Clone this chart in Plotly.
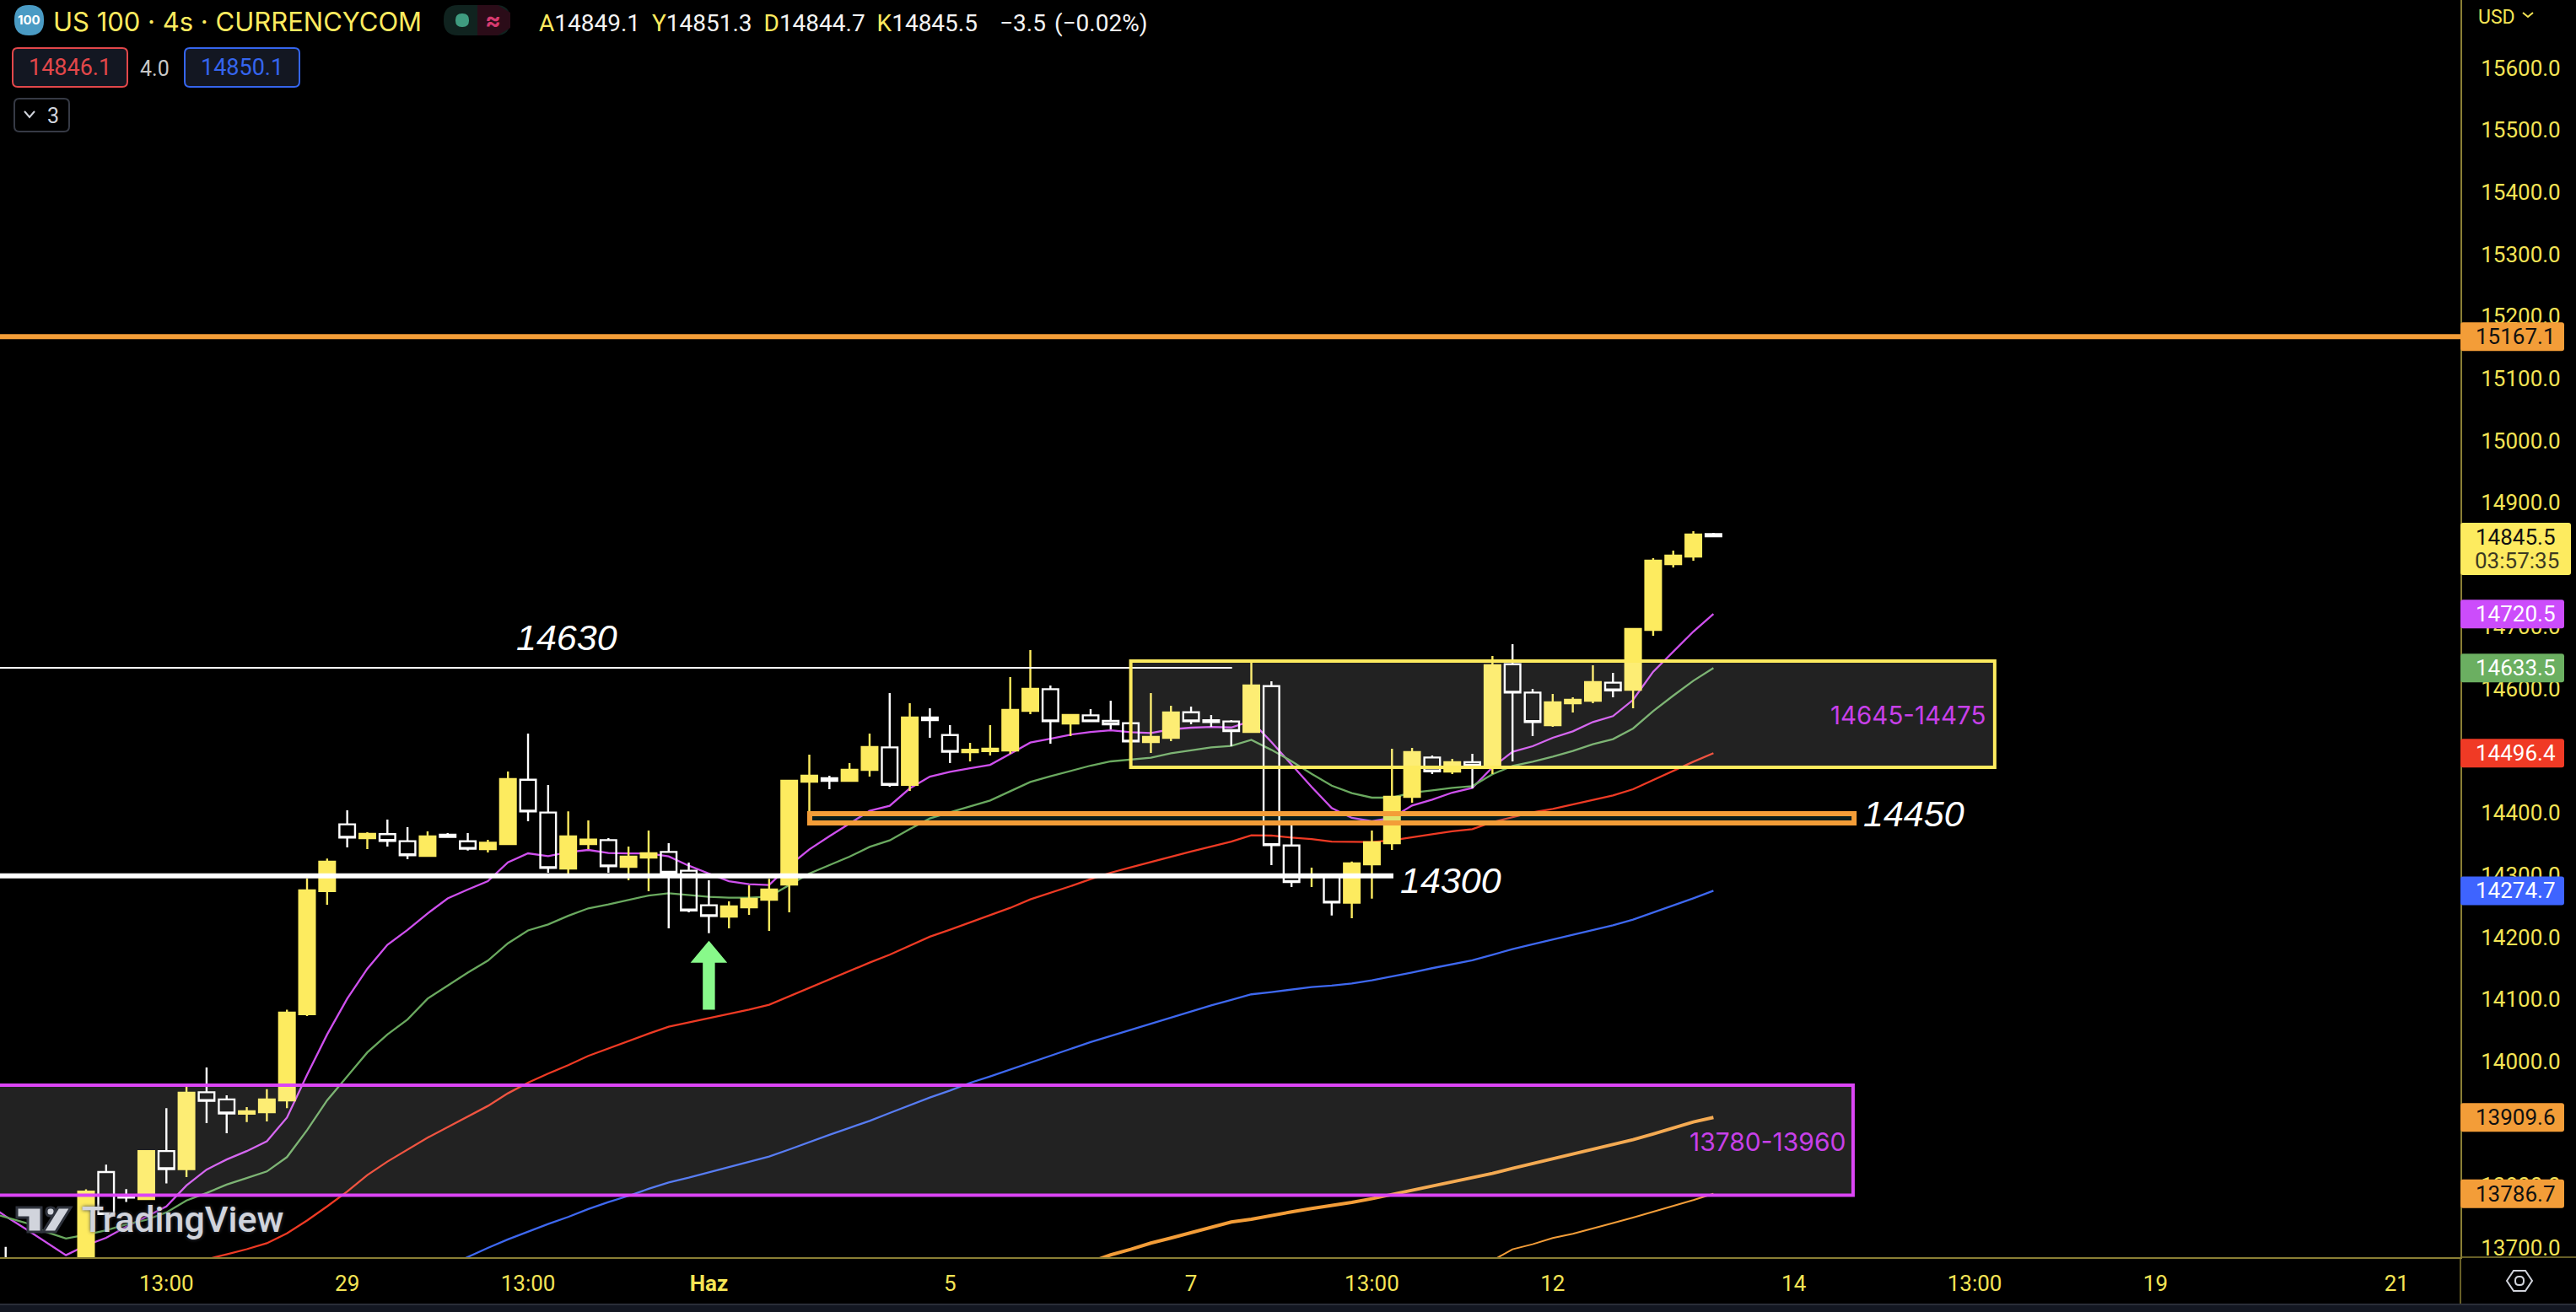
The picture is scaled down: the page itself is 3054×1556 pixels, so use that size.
# us100_4h_chart.py
import plotly.graph_objects as go

W, H = 3054, 1556
PLOT_W, PLOT_H = 2917, 1491
X_RANGE = [-4.282, 118.18]
Y_RANGE = [13684.5, 15709.5]

YELLOW = "#fdeb5f"
AXIS_TEXT = "#f4e455"
PURPLE = "#dc45f5"
ORANGE = "#f39d38"

candle_bar = [-4] + list(range(0, 82))
candle_open = [13670, 13650, 13821.6, 13781.7, 13778.3, 13855.4, 13826.4, 13950.2, 13938.7, 13915.6,
               13918, 13937.2, 14075.9, 14274.3, 14381.7, 14359.5, 14365.9, 14354.6, 14331, 14364.9,
               14354.5, 14341.8, 14350, 14453.6, 14400.7, 14310.6, 14350, 14356.3, 14313.3, 14328.2,
               14337.3, 14307, 14251.3, 14233.2, 14248.1, 14260.3, 14284.8, 14450.5, 14455.9, 14451.8,
               14469.5, 14505.7, 14445.5, 14553.7, 14525.6, 14498, 14499.8, 14500.7, 14564.6, 14599.4,
               14544.2, 14557.3, 14548.3, 14544.6, 14514.3, 14521.1, 14562.3, 14549.2, 14547.4, 14530.6,
               14604.4, 14347.7, 14297, 14298, 14255.4, 14317.4, 14351.4, 14426, 14489.4, 14466.8,
               14481.7, 14473.6, 14639.7, 14594, 14541.5, 14576.8, 14580.9, 14609.9, 14598.5, 14695,
               14800.9, 14813.1, 14849.1]
candle_high = [13701, 13794, 13833.7, 13794.2, 13856.8, 13924.7, 13958.9, 13990.2, 13945.4, 13926.1,
               13955, 14083.1, 14294.6, 14326.4, 14404.4, 14369, 14389.4, 14377.2, 14370.4, 14367.6,
               14367.6, 14356.8, 14466.8, 14527.9, 14445, 14402.5, 14388, 14359.5, 14345.9, 14371.7,
               14351.3, 14320, 14291.6, 14257.6, 14283.4, 14293.8, 14451.8, 14493.9, 14460, 14480.3,
               14527.9, 14593, 14576.8, 14568.6, 14541.5, 14513, 14541.5, 14618.9, 14662.3, 14605.3,
               14557.8, 14567.3, 14580.8, 14545.5, 14593, 14572.7, 14571.3, 14557.8, 14549.6, 14643.3,
               14612.1, 14380, 14312, 14300, 14321.9, 14371.7, 14503.5, 14504.8, 14492.6, 14487.2,
               14495.3, 14652.9, 14671.9, 14599.9, 14591.7, 14586.3, 14637.9, 14625.7, 14697.7, 14810.4,
               14822.6, 14853.9, 14851.3]
candle_low = [13640, 13640, 13749, 13773.5, 13777.3, 13803.3, 13813.4, 13900.6, 13884.2, 13902.1,
              13903, 13924.7, 14073, 14252.2, 14344.6, 14341.9, 14346, 14325.6, 14331, 14361.3,
              14339.6, 14336.4, 14350, 14386.6, 14303.8, 14301, 14341.8, 14303.8, 14291.6, 14273.9,
              14214.2, 14240, 14206.5, 14214.2, 14235.9, 14210.1, 14240, 14390, 14438.2, 14450.5,
              14458.6, 14442.3, 14435.5, 14521.1, 14480.3, 14483, 14492.6, 14495.3, 14559.1, 14511.6,
              14523.8, 14547.8, 14534.7, 14515.2, 14496.6, 14515.7, 14542.8, 14538.7, 14507.5, 14530.6,
              14316, 14280.7, 14280.7, 14235, 14230.5, 14262.2, 14340.5, 14416.5, 14462.7, 14462.7,
              14439.6, 14462.7, 14483.1, 14523.8, 14538.8, 14561.9, 14576.8, 14586.3, 14568.6, 14685.5,
              14795.5, 14806.3, 14844.7]
candle_close = [13650, 13790.3, 13754, 13780.5, 13855.4, 13826.4, 13949.3, 13936.3, 13916, 13919.4,
                13938.7, 14078.3, 14275.3, 14321.5, 14360.4, 14366.3, 14355, 14331.9, 14362.3, 14361.3,
                14342.3, 14352.2, 14454.5, 14402.5, 14311.5, 14362.2, 14357.2, 14314.2, 14329.6, 14335,
                14303.8, 14243.1, 14234, 14249.5, 14261.7, 14276.6, 14451.8, 14460, 14451.8, 14469.5,
                14506.1, 14445.5, 14553.7, 14549.6, 14498.5, 14502, 14503.4, 14565.9, 14599.9, 14547.8,
                14557.8, 14547.8, 14542.8, 14515.2, 14522.4, 14561.8, 14547.8, 14546.4, 14532, 14605.3,
                14348.2, 14288.9, 14300, 14255.8, 14318.8, 14352.7, 14426, 14498, 14467.2, 14481.7,
                14475.9, 14637.9, 14594, 14546.5, 14578.2, 14582.2, 14610.8, 14597.6, 14696.3, 14806.3,
                14814.5, 14848.4, 14845.5]

ma_purple = [13772, 13750.4, 13730.1, 13708.5, 13687.7, 13703.6, 13715.7, 13733.5, 13749.4, 13766.3,
             13800, 13825.5, 13841.9, 13855.4, 13871.2, 13909.3, 13978.2, 14043.2, 14101, 14149.1,
             14187.7, 14211.7, 14238.2, 14262.3, 14276.6, 14290.2, 14320.5, 14335, 14330.5, 14336.8,
             14340.5, 14335.5, 14335, 14335, 14330, 14315.1, 14302.4, 14290.2, 14285.2, 14283.9,
             14315.1, 14341.4, 14362.6, 14383, 14403.4, 14411.5, 14439.6, 14458.6, 14466.3, 14472.2,
             14477.6, 14495.3, 14513.4, 14519.7, 14526.1, 14530.6, 14533.3, 14530.1, 14528.8, 14534.7,
             14537.4, 14538.7, 14537.8, 14548.3, 14514.3, 14478.1, 14441.9, 14407.9, 14392.1, 14386.7,
             14392.1, 14412, 14421.5, 14432.8, 14440.5, 14473.6, 14498.5, 14507.5, 14521.1, 14531.5,
             14546.5, 14556, 14582.2, 14627.5, 14659.2, 14692.2, 14720.5]
ma_green = [13758.1, 13749.4, 13739.8, 13725.3, 13714.7, 13720.5, 13727.7, 13737.4, 13744.6, 13756.6,
            13775.9, 13787.9, 13801.4, 13812, 13822.6, 13845.7, 13889.1, 13937.2, 13975.8, 14014.3,
            14043.2, 14067.3, 14101, 14121.7, 14142.9, 14162.1, 14190.1, 14210.8, 14220.4, 14234.4,
            14246.4, 14252.7, 14259.9, 14267.1, 14270.7, 14268, 14264.9, 14263.5, 14263.5, 14265.3,
            14283.4, 14302.4, 14316, 14329.6, 14345.4, 14355.9, 14374, 14391.2, 14401.1, 14410.2,
            14420.1, 14435.1, 14450, 14459.1, 14468.1, 14476.3, 14483.1, 14485.8, 14489, 14496.2,
            14501.2, 14505.7, 14508, 14517.9, 14501.6, 14483.5, 14463.1, 14444.1, 14431.9, 14424.7,
            14424.7, 14432.8, 14436.5, 14440.5, 14443.3, 14462.3, 14475.9, 14482.6, 14490.8, 14499.8,
            14510.7, 14518.9, 14536.1, 14564.1, 14589, 14613, 14633.5]
ma_red = [13670, 13681, 13689.2, 13697.4, 13707, 13722.9, 13743.6, 13766.3, 13790.3, 13816.8,
          13838.5, 13857.8, 13877, 13893.9, 13911.4, 13928.1, 13948.5, 13965.7, 13980.2, 13993.8,
          14008.7, 14020.9, 14033.2, 14044.5, 14055.8, 14062.6, 14069.4, 14076.2, 14083.4, 14091.1,
          14104.7, 14118.7, 14131.9, 14145.4, 14159, 14171.7, 14186.2, 14200.7, 14212, 14223.7,
          14234.6, 14247.2, 14260.8, 14271.2, 14282.1, 14293.4, 14303.8, 14312.4, 14320.5, 14329.6,
          14337.8, 14345.9, 14354, 14364, 14363.6, 14360.4, 14358.1, 14354, 14353.2, 14353.2,
          14355.9, 14361.3, 14365.8, 14370.4, 14374, 14385.3, 14393, 14401.2, 14406.6, 14413.8,
          14421.5, 14428.3, 14438.3, 14453.2, 14467.7, 14482.6, 14496.4]
ma_blue = [13670, 13685, 13699.5, 13713.1, 13725.8, 13738, 13749.3, 13762, 13773.3, 13783.3,
           13794.6, 13805, 13812.7, 13821.3, 13829.4, 13837.6, 13846.6, 13858, 13870.2, 13881.5,
           13892.8, 13904.1, 13916.8, 13929.5, 13941.7, 13953, 13965.3, 13975.7, 13987, 13998.3,
           14009.2, 14020, 14030.9, 14040.9, 14050.4, 14060.3, 14070.7, 14080.7, 14090.2, 14098.8,
           14107.9, 14111.5, 14115.1, 14119.6, 14121.9, 14125.5, 14130.5, 14136.4, 14143.2, 14150,
           14156.3, 14162.6, 14171.7, 14180.7, 14188.4, 14196.1, 14203.8, 14212, 14219.2, 14228.2,
           14239.5, 14250.8, 14262.6, 14274.7]
ma_orange = [13676.9, 13688.2, 13697.3, 13707.2, 13715.4, 13724.4, 13733.5, 13741.2, 13745.7, 13752,
             13757.5, 13762.9, 13767.4, 13772.9, 13778.7, 13785.5, 13792.3, 13799.1, 13805.9, 13811.8,
             13819.5, 13827.6, 13835.3, 13842.6, 13849.8, 13858, 13864.8, 13873.8, 13882.9, 13892.8,
             13902.3, 13909.6]
ma_orange_thin = [13679.1, 13697.3, 13705.4, 13715.4, 13722.2, 13730.3, 13739.4, 13748.4, 13757.5, 13767.4,
                  13776.5, 13786.7]

y_ticks = [13700, 13800, 13900, 14000, 14100, 14200, 14300, 14400, 14500, 14600,
           14700, 14800, 14900, 15000, 15100, 15200, 15300, 15400, 15500, 15600]
x_tick_bars = [4, 13, 22, 31, 43, 55, 64, 73, 85, 94, 103, 115]
x_tick_text = ["13:00", "29", "13:00", "<b>Haz</b>", "5", "7", "13:00", "12", "14", "13:00", "19", "21"]

label_prices = [15167.1, 14720.5, 14633.5, 14496.4, 14274.7, 13909.6, 13786.7]
label_fills = [ORANGE, "#cc4cfb", "#6baf61", "#f03a25", "#3e64ff", ORANGE, ORANGE]
label_texts = ["#111111", "#ffffff", "#ffffff", "#ffffff", "#ffffff", "#111111", "#111111"]


def px(x):
    return x / PLOT_W


def py(y):
    return 1 - y / PLOT_H


def price_py(price):
    return (Y_RANGE[1] - price) / (Y_RANGE[1] - Y_RANGE[0]) * PLOT_H


def rounded(x0, y0, x1, y1, r):
    # rounded rectangle, given in window pixels
    pts = [("M", x0 + r, y0), ("L", x1 - r, y0), ("Q", x1, y0, x1, y0 + r), ("L", x1, y1 - r),
           ("Q", x1, y1, x1 - r, y1), ("L", x0 + r, y1), ("Q", x0, y1, x0, y1 - r), ("L", x0, y0 + r),
           ("Q", x0, y0, x0 + r, y0)]
    out = []
    for p in pts:
        if p[0] == "Q":
            out.append(f"Q{px(p[1])},{py(p[2])} {px(p[3])},{py(p[4])}")
        else:
            out.append(f"{p[0]}{px(p[1])},{py(p[2])}")
    return " ".join(out) + " Z"


def poly(points, closed=True):
    s = " ".join(("M" if i == 0 else "L") + f"{px(a)},{py(b)}" for i, (a, b) in enumerate(points))
    return s + (" Z" if closed else "")


fig = go.Figure()


def add_ma(start, values, color, width):
    fig.add_trace(go.Scatter(x=list(range(start, start + len(values))), y=values, mode="lines",
                             line=dict(color=color, width=width), hoverinfo="skip", showlegend=False))


add_ma(-5, ma_purple, "#cf50ee", 2.3)
add_ma(-5, ma_green, "#6aa95f", 2.3)
add_ma(5, ma_red, "#ee3a24", 2.3)
add_ma(18, ma_blue, "#3e68f0", 2.3)
add_ma(50, ma_orange, ORANGE, 4)
add_ma(70, ma_orange_thin, ORANGE, 2)

# candles sit on an overlay axis so the averages pass underneath them
fig.add_trace(go.Candlestick(
    x=candle_bar, open=candle_open, high=candle_high, low=candle_low, close=candle_close,
    xaxis="x2", yaxis="y2", whiskerwidth=0, showlegend=False, hoverinfo="skip",
    increasing=dict(line=dict(color=YELLOW, width=2.4), fillcolor=YELLOW),
    decreasing=dict(line=dict(color="#ffffff", width=2.4), fillcolor="rgba(0,0,0,0)"),
))

shapes = []


def data_box(x0, x1, y0, y1, line, width, fill):
    shapes.append(dict(type="rect", xref="x", yref="y", x0=x0, x1=x1, y0=y0, y1=y1, layer="above",
                       line=dict(color=line, width=width), fillcolor=fill))


def data_line(x0, x1, y, color, width):
    shapes.append(dict(type="line", xref="x", yref="y", x0=x0, x1=x1, y0=y, y1=y, layer="above",
                       line=dict(color=color, width=width)))


def paper_path(path, fill="rgba(0,0,0,0)", line="rgba(0,0,0,0)", width=0):
    shapes.append(dict(type="path", xref="paper", yref="paper", path=path, layer="above",
                       fillcolor=fill, line=dict(color=line, width=width)))


# drawings on the chart
data_line(X_RANGE[0], X_RANGE[1], 15167.1, ORANGE, 6)
data_line(X_RANGE[0], 57.04, 14634, "#ffffff", 2)
data_box(52.0, 95.0, 14473.6, 14644.7, YELLOW, 4, "rgba(255,255,255,0.133)")
data_box(-6, 87.95, 13784.2, 13961.6, PURPLE, 4, "rgba(255,255,255,0.133)")
data_box(36.02, 88.0, 14384, 14399, ORANGE, 6, "rgba(50,190,190,0.14)")
data_line(X_RANGE[0], 65.07, 14298.8, "#ffffff", 6)

# green arrow under the lows of 1 Haz
a_x, a_w, a_s = 31, 0.78, 0.24
arrow = [(a_x, 14191), (a_x + a_w, 14161), (a_x + a_s, 14161), (a_x + a_s, 14085),
         (a_x - a_s, 14085), (a_x - a_s, 14161), (a_x - a_w, 14161)]
shapes.append(dict(type="path", xref="x", yref="y", layer="above", fillcolor="#88f98a",
                   line=dict(color="#88f98a", width=3),
                   path=" ".join(("M" if i == 0 else "L") + f"{a},{b}" for i, (a, b) in enumerate(arrow)) + " Z"))

# axis line extensions and footer strip
AXIS_LINE = "#8a7f35"
paper_path(poly([(PLOT_W, PLOT_H), (PLOT_W, 1546)], False), line=AXIS_LINE, width=1.5)
paper_path(poly([(PLOT_W, PLOT_H), (W, PLOT_H)], False), line=AXIS_LINE, width=1.5)
paper_path(poly([(0, 1546), (W, 1546), (W, 1556), (0, 1556)]), fill="#131722")
paper_path(poly([(0, 1547), (W, 1547)], False), line="#2a2e39", width=2)

# price labels on the axis
for price, fill in zip(label_prices, label_fills):
    c = price_py(price)
    paper_path(rounded(PLOT_W, c - 17, 3040, c + 17, 3), fill=fill)
paper_path(rounded(PLOT_W, 620, 3048, 682, 3), fill=YELLOW)

# header boxes
paper_path(rounded(15, 57, 151, 103, 6), fill="#131722", line="#e2474a", width=2)
paper_path(rounded(219, 57, 355, 103, 6), fill="#131722", line="#3565ee", width=2)
paper_path(rounded(17, 117, 82, 156, 6), line="#363a45", width=2)
paper_path(poly([(29, 132), (35, 139), (41, 132)], False), line="#d1d4dc", width=2)
paper_path(rounded(526, 6, 605, 42, 17), fill="#10231f")
paper_path(poly([(566, 6), (590, 6), (605, 15), (605, 33), (590, 42), (566, 42)]), fill="#2b0c18")
paper_path(rounded(17, 6, 52, 42, 17), fill="#4a9bc4")
paper_path(rounded(540, 16, 556, 32, 7.5), fill="#3f9c80")

# USD chevron and settings hexagon
paper_path(poly([(2991, 15), (2997, 20), (3003, 15)], False), line=AXIS_TEXT, width=2)
paper_path(poly([(2972, 1519), (2980, 1507), (2994, 1507), (3002, 1519), (2994, 1531), (2980, 1531)]),
           line="#d1d4dc", width=2)
paper_path(rounded(2982, 1514, 2992, 1524, 4.5), line="#d1d4dc", width=2)

# TradingView mark
mark = dict(fill="#d1d4dc", line="#2f333d", width=3)
paper_path(poly([(20, 1432), (49, 1432), (49, 1461), (33, 1461), (33, 1444), (20, 1444)]), **mark)
paper_path(rounded(55, 1432, 65, 1442, 4.5), **mark)
paper_path(poly([(84, 1432), (69, 1432), (51, 1461), (66, 1461)]), **mark)

annotations = []


def label(x, y, text, size, color, anchor="left", family="Roboto", italic=False, weight=None, shadow=None):
    font = dict(family=family, size=size, color=color)
    if italic:
        font["style"] = "italic"
    if weight:
        font["weight"] = weight
    if shadow:
        font["shadow"] = shadow
    annotations.append(dict(x=px(x), y=py(y), xref="paper", yref="paper", text=text, showarrow=False,
                            xanchor=anchor, yanchor="middle", font=font, borderpad=0))


y_span = "<span style='color:%s'>%%s</span>" % YELLOW
w_span = "<span style='color:#f4f4f4'>%s</span>"
gap = "\u00a0\u00a0"
ohlc = gap.join(y_span % k + w_span % v for k, v in
                [("A", "14849.1"), ("Y", "14851.3"), ("D", "14844.7"), ("K", "14845.5")])

label(62, 25, "US 100 · 4s · CURRENCYCOM", 31, YELLOW, family="Inter")
label(34.5, 24, "100", 15, "#ffffff", "center", family="Inter", weight=700)
label(584, 24, "≈", 28, "#d63a6f", "center", family="Inter", weight=700)
label(638, 27, ohlc, 28, "#f4f4f4")
label(1184, 27, "−3.5", 28, "#f4f4f4")
label(1249, 27, "(−0.02%)", 28, "#f4f4f4")
label(83, 80, "14846.1", 27, "#e2474a", "center")
label(183, 81, "4.0", 25, "#c8c8c8", "center")
label(287, 80, "14850.1", 27, "#3565ee", "center")
label(63, 137, "3", 25, "#d1d4dc", "center")
label(2937, 20, "USD", 23, AXIS_TEXT)

for price, color in zip(label_prices, label_texts):
    label(2934, price_py(price), f"{price:.1f}", 26, color)
label(2934, 637, "14845.5", 26, "#111111")
label(2984.5, 665, "03:57:35", 26, "#3d3a22", "center")

label(672, 756, "14630", 43, "#ffffff", "center", "Liberation Sans", italic=True)
label(1720, 1044, "14300", 43, "#ffffff", "center", "Liberation Sans", italic=True)
label(2269, 965, "14450", 43, "#ffffff", "center", "Liberation Sans", italic=True)
label(2355, 848, "14645-14475", 29.5, "#c840e9", "right", family="Inter")
label(2189, 1354, "13780-13960", 30, "#c840e9", "right", family="Inter")
label(96, 1446, "TradingView", 43, "#d1d4dc", family="Roboto", weight=500, shadow="0 0 4px #3a3e49")

axis_font = dict(family="Roboto", size=26, color=AXIS_TEXT)
fig.update_layout(
    width=W, height=H,
    margin=dict(l=0, r=W - PLOT_W, t=0, b=H - PLOT_H, pad=0),
    paper_bgcolor="#000000", plot_bgcolor="#000000",
    showlegend=False, hovermode=False, boxgap=0.22, boxgroupgap=0,
    xaxis=dict(range=X_RANGE, tickmode="array", tickvals=x_tick_bars, ticktext=x_tick_text,
               tickfont=axis_font, showgrid=False, zeroline=False, showline=True, linecolor=AXIS_LINE,
               linewidth=2, ticks="", ticklabelstandoff=7, rangeslider=dict(visible=False), fixedrange=True),
    yaxis=dict(range=Y_RANGE, side="right", tickmode="array", tickvals=y_ticks, tickformat=".1f",
               tickfont=axis_font, showgrid=False, zeroline=False, showline=True, linecolor=AXIS_LINE,
               linewidth=2, ticks="", ticklabelstandoff=17, fixedrange=True),
    xaxis2=dict(range=X_RANGE, overlaying="x", visible=False, rangeslider=dict(visible=False), fixedrange=True),
    yaxis2=dict(range=Y_RANGE, overlaying="y", side="right", visible=False, fixedrange=True),
    shapes=shapes, annotations=annotations,
)

fig.write_html("out.html", config=dict(displayModeBar=False),
               post_script="document.body.style.margin='0';document.body.style.overflow='hidden';document.body.style.background='#000';")
print("saved out.html")
